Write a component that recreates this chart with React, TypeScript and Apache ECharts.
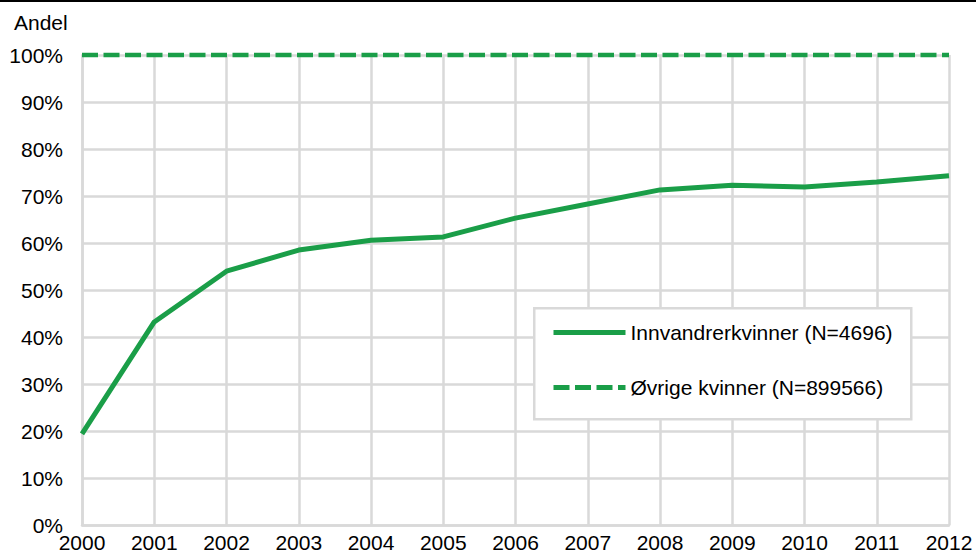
import React, { useEffect, useRef } from "react";
import * as echarts from "echarts";

const years = ["2000","2001","2002","2003","2004","2005","2006","2007","2008","2009","2010","2011","2012"];
const innvandrer = [19.4, 43.2, 54.0, 58.5, 60.6, 61.3, 65.3, 68.3, 71.3, 72.3, 71.9, 73.0, 74.3];
const ovrige = [100,100,100,100,100,100,100,100,100,100,100,100,100];
const seriesNames = ["Innvandrerkvinner (N=4696)", "Øvrige kvinner (N=899566)"];

const GREEN = "#1a9e48";
const GRID = "#d9d9d9";
const FONT = "Liberation Sans, Arial, sans-serif";

export default function App() {
  const ref = useRef<HTMLDivElement>(null);
  useEffect(() => {
    if (!ref.current) return;
    const chart = echarts.init(ref.current, undefined, { renderer: "svg" });
    chart.setOption({
      animation: false,
      backgroundColor: "#fff",
      grid: { left: 82, right: 27, top: 55, bottom: 28, containLabel: false },
      xAxis: {
        type: "category",
        data: years,
        boundaryGap: false,
        axisLine: { show: true, lineStyle: { color: GRID, width: 2.5 } },
        axisTick: { show: false },
        axisLabel: { color: "#000", fontSize: 21, fontFamily: FONT, margin: 7, interval: 0 },
        splitLine: { show: true, interval: 0, lineStyle: { color: GRID, width: 2.5 } },
      },
      yAxis: {
        type: "value",
        min: 0,
        max: 100,
        interval: 10,
        axisLine: { show: true, lineStyle: { color: GRID, width: 2.5 } },
        axisTick: { show: false },
        axisLabel: { color: "#000", fontSize: 21, fontFamily: FONT, margin: 19, formatter: "{value}%" },
        splitLine: { show: true, lineStyle: { color: GRID, width: 2.5 } },
      },
      legend: {
        orient: "vertical",
        left: 546,
        top: 317,
        itemWidth: 72,
        itemHeight: 16,
        itemGap: 34,
        z: 10,
        itemStyle: { opacity: 0 },
        lineStyle: { width: 5 },
        textStyle: { color: "#000", fontSize: 21, fontFamily: FONT },
        data: seriesNames,
      },
      graphic: [
        { type: "rect", left: 0, top: 0, shape: { width: 976, height: 2 }, style: { fill: "#000" } },
        { type: "text", left: 14, top: 12, style: { text: "Andel", fill: "#000", font: `21px ${FONT}` } },
        {
          type: "rect",
          left: 533,
          top: 307,
          shape: { width: 377, height: 111 },
          style: { fill: "#fff", stroke: GRID, lineWidth: 2.5 },
          z: 5,
        },
      ],
      series: [
        {
          name: seriesNames[0],
          type: "line",
          data: innvandrer,
          symbol: "none",
          clip: false,
          lineStyle: { color: GREEN, width: 5 },
          itemStyle: { color: GREEN },
          z: 3,
        },
        {
          name: seriesNames[1],
          type: "line",
          data: ovrige,
          symbol: "none",
          clip: false,
          lineStyle: { color: GREEN, width: 4.5, type: [16, 5.5] },
          itemStyle: { color: GREEN },
          z: 3,
        },
      ],
    });
    return () => chart.dispose();
  }, []);
  return <div ref={ref} style={{ width: 976, height: 553, position: "absolute", left: 0, top: 0 }} />;
}
